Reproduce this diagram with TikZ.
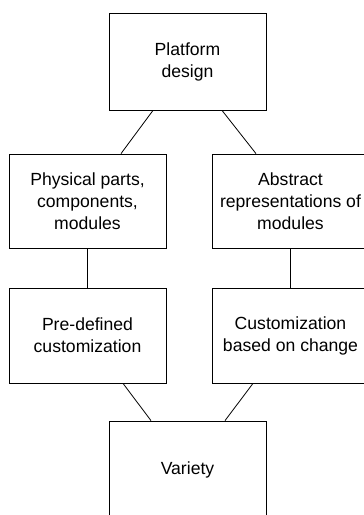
\documentclass[tikz,border=0pt]{standalone}
\usepackage{fontspec}
\setmainfont{Liberation Sans}
\begin{document}
\begin{tikzpicture}[x=1pt,y=-1pt,
  box/.style={draw, line width=0.8pt, minimum width=157pt, inner sep=0pt, align=center,
    font=\fontsize{17.6}{22}\selectfont},
  conn/.style={line width=0.8pt}]
\clip (0,0) rectangle (364,515);
\fill[white] (0,0) rectangle (364,515);
\node[box, minimum height=97pt] (top) at (187.5,61.5) {Platform\\design};
\node[box, minimum height=94pt] (pp) at (87.5,201) {Physical parts,\\components,\\modules};
\node[box, minimum height=94pt] (ar) at (290.5,201) {Abstract\\representations of\\modules};
\node[box, minimum height=95pt] (pd) at (87.5,335.5) {Pre-defined\\customization};
\node[box, minimum height=95pt] (cc) at (290.5,335.5) {Customization\\based on change};
\node[box, minimum height=97pt] (var) at (187.5,469.5) {Variety};
\draw[conn] ([xshift=-34.5pt]top.south) -- ([xshift=33.5pt]pp.north);
\draw[conn] ([xshift=34.5pt]top.south) -- ([xshift=-34.5pt]ar.north);
\draw[conn] (pp.south) -- (pd.north);
\draw[conn] (ar.south) -- (cc.north);
\draw[conn] ([xshift=35.5pt]pd.south) -- ([xshift=-36.5pt]var.north);
\draw[conn] ([xshift=-37.5pt]cc.south) -- ([xshift=37.5pt]var.north);
\end{tikzpicture}
\end{document}
